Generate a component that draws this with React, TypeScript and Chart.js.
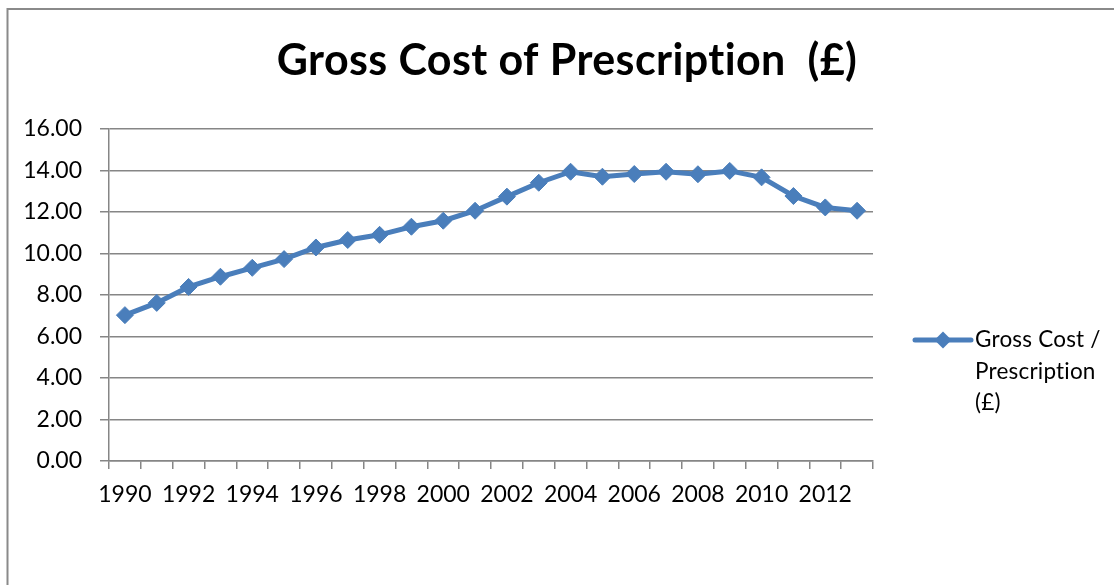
import React, { useEffect, useRef } from "react";
import { Chart, registerables } from "chart.js";

Chart.register(...registerables);

const years: string[] = [
  "1990", "1991", "1992", "1993", "1994", "1995", "1996", "1997",
  "1998", "1999", "2000", "2001", "2002", "2003", "2004", "2005",
  "2006", "2007", "2008", "2009", "2010", "2011", "2012", "2013",
];

const grossCost: number[] = [
  7.03, 7.62, 8.39, 8.88, 9.31, 9.73, 10.29, 10.65,
  10.9, 11.29, 11.58, 12.06, 12.74, 13.41, 13.94, 13.7,
  13.83, 13.94, 13.82, 13.98, 13.67, 12.77, 12.22, 12.06,
];

const chartTitle = "Gross Cost of Prescription  (£)";
const legendLines: string[] = ["Gross Cost /", "Prescription", "(£)"];
const seriesName = "Gross Cost / Prescription (£)";

const BLUE = "#4a7ebb";
const GRID = "#868686";
const FONT = "Lato, 'Open Sans', sans-serif";

const decorPlugin = {
  id: "decor",
  beforeDraw(chart: any) {
    const ctx = chart.ctx;
    ctx.save();
    ctx.strokeStyle = "#8a8a8a";
    ctx.lineWidth = 2;
    ctx.strokeRect(7.5, 9, 1300, 800);
    ctx.restore();
  },
  afterDraw(chart: any) {
    const ctx = chart.ctx;
    const area = chart.chartArea;
    ctx.save();
    // title
    ctx.fillStyle = "#000";
    ctx.font = `bold 43px ${FONT}`;
    try { (ctx as any).letterSpacing = "0.4px"; } catch (e) {}
    ctx.textAlign = "center";
    ctx.textBaseline = "alphabetic";
    ctx.fillText(chartTitle, 567, 75);

    // legend
    const lx = area.right + 42;
    const ly = 340;
    ctx.strokeStyle = BLUE;
    ctx.lineWidth = 5;
    ctx.lineCap = "round";
    ctx.beginPath();
    ctx.moveTo(lx, ly);
    ctx.lineTo(lx + 56, ly);
    ctx.stroke();
    const cx = lx + 28;
    const r = 8.5;
    ctx.fillStyle = BLUE;
    ctx.beginPath();
    ctx.moveTo(cx, ly - r);
    ctx.lineTo(cx + r, ly);
    ctx.lineTo(cx, ly + r);
    ctx.lineTo(cx - r, ly);
    ctx.closePath();
    ctx.fill();

    ctx.fillStyle = "#000";
    ctx.font = `22.5px ${FONT}`;
    try { (ctx as any).letterSpacing = "0.2px"; } catch (e) {}
    ctx.textAlign = "left";
    ctx.textBaseline = "alphabetic";
    legendLines.forEach((t, i) => {
      ctx.fillText(t, lx + 60, 347 + i * 31.5);
    });
    ctx.restore();
  },
};

export default function App() {
  const canvasRef = useRef<HTMLCanvasElement | null>(null);

  useEffect(() => {
    document.body.style.margin = "0";
    const canvas = canvasRef.current;
    if (!canvas) return;
    const chart = new Chart(canvas, {
      type: "line",
      data: {
        labels: years,
        datasets: [
          {
            label: seriesName,
            data: grossCost,
            borderColor: BLUE,
            backgroundColor: BLUE,
            borderWidth: 5,
            pointStyle: "rectRot",
            pointRadius: 8.5,
            pointBorderWidth: 1,
            pointBackgroundColor: BLUE,
            pointBorderColor: BLUE,
            tension: 0,
            fill: false,
          },
        ],
      },
      options: {
        animation: false,
        responsive: false,
        devicePixelRatio: 1,
        layout: {
          padding: { left: 0, right: 241, top: 129, bottom: 74 },
        },
        plugins: {
          legend: { display: false },
          title: { display: false },
          tooltip: { enabled: false },
        },
        scales: {
          x: {
            type: "category",
            offset: true,
            grid: {
              offset: true,
              drawOnChartArea: false,
              drawTicks: true,
              tickLength: 8,
              color: GRID,
              lineWidth: 1.5,
            },
            border: { display: true, color: GRID, width: 1.5 },
            ticks: {
              autoSkip: false,
              maxRotation: 0,
              minRotation: 0,
              padding: 12,
              color: "#000",
              font: { family: FONT, size: 23 },
              callback: (_v: any, i: number) => (i % 2 === 0 ? years[i] : ""),
            },
            afterFit: (scale: any) => {
              scale.height = 50;
            },
          },
          y: {
            min: 0,
            max: 16,
            grid: {
              color: GRID,
              lineWidth: 1.5,
              tickLength: 9,
              drawTicks: true,
            },
            border: { display: true, color: GRID, width: 1.5 },
            ticks: {
              stepSize: 2,
              padding: 18,
              color: "#000",
              font: { family: FONT, size: 23 },
              callback: (v: any) => Number(v).toFixed(2),
            },
            afterFit: (scale: any) => {
              scale.width = 109;
            },
          },
        },
      },
      plugins: [decorPlugin],
    });
    return () => chart.destroy();
  }, []);

  return (
    <div style={{ position: "relative", width: 1114, height: 585, overflow: "hidden" }}>
      <canvas ref={canvasRef} width={1114} height={585} style={{ display: "block", width: 1114, height: 585 }} />
    </div>
  );
}
